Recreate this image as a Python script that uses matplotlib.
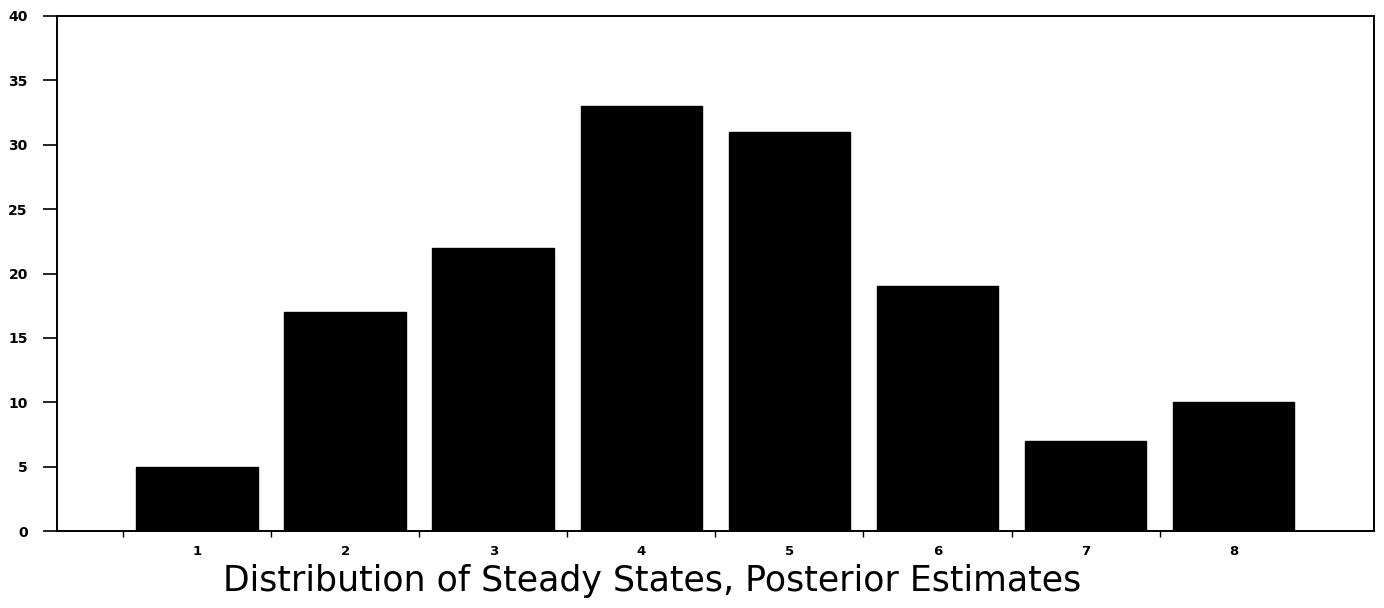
import matplotlib
matplotlib.use("Agg")
import matplotlib.pyplot as plt
import numpy as np

# 各定常状態の事後推定の度数
states = [1, 2, 3, 4, 5, 6, 7, 8]
counts = [5, 17, 22, 33, 31, 19, 7, 10]
y_ticks = [0, 5, 10, 15, 20, 25, 30, 35, 40]
title = "Distribution of Steady States, Posterior Estimates"

fig = plt.figure(figsize=(13.84, 6.08), dpi=100)
ax = fig.add_axes([0.0412, 0.1266, 0.9516, 0.8471])

ax.bar(states, counts, width=0.82, color="black", edgecolor="black")

ax.set_xlim(0.055, 8.947)
ax.set_ylim(0, 40)

# 主目盛りは棒の境界、副目盛りにラベル
ax.set_xticks(np.array(states) - 0.5)
ax.set_xticklabels([])
ax.set_xticks(states, minor=True)
ax.set_xticklabels([str(s) for s in states], minor=True)
ax.tick_params(axis="x", which="major", direction="out", length=4, width=1)
ax.tick_params(axis="x", which="minor", length=0, pad=10, labelsize=9.5)

ax.set_yticks(y_ticks)
ax.set_yticklabels([str(v) for v in y_ticks])
ax.tick_params(axis="y", direction="out", length=10, width=1.2, pad=11, labelsize=10)

for lbl in ax.get_xticklabels(minor=True) + ax.get_yticklabels():
    lbl.set_fontweight("bold")

for sp in ax.spines.values():
    sp.set_linewidth(1.4)

fig.text(0.471, 0.045, title, ha="center", va="center", fontsize=25,
         family="DejaVu Sans", color="black")

fig.savefig("out.png", dpi=100)
